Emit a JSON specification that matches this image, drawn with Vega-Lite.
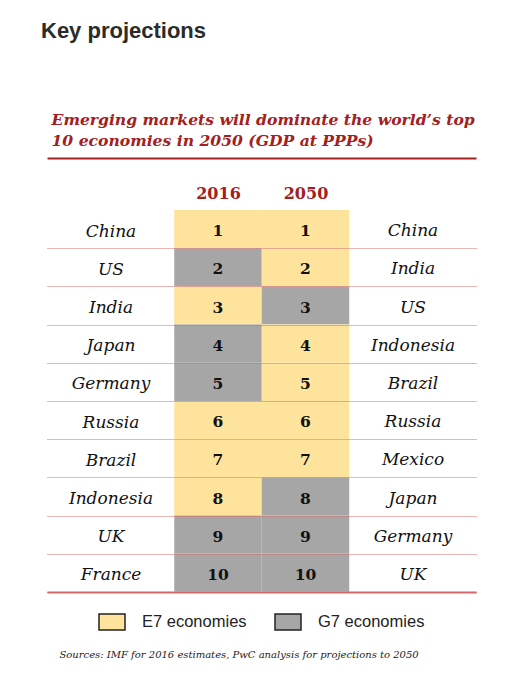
{
  "$schema": "https://vega.github.io/schema/vega-lite/v6.json",
  "width": 429,
  "height": 382,
  "autosize": {"type": "none"},
  "padding": {"left": 47, "top": 210, "right": 37, "bottom": 89},
  "background": "white",
  "config": {"view": {"stroke": null}},
  "title": {
    "text": "Key projections",
    "anchor": "start",
    "frame": "group",
    "font": "Liberation Sans",
    "fontSize": 22,
    "fontWeight": "bold",
    "color": "#2b2b2b",
    "dx": -6,
    "offset": 69
  },
  "datasets": {
    "ranks": [
      {"year": 2016, "rank": 1, "country": "China", "group": "E7 economies"},
      {"year": 2016, "rank": 2, "country": "US", "group": "G7 economies"},
      {"year": 2016, "rank": 3, "country": "India", "group": "E7 economies"},
      {"year": 2016, "rank": 4, "country": "Japan", "group": "G7 economies"},
      {"year": 2016, "rank": 5, "country": "Germany", "group": "G7 economies"},
      {"year": 2016, "rank": 6, "country": "Russia", "group": "E7 economies"},
      {"year": 2016, "rank": 7, "country": "Brazil", "group": "E7 economies"},
      {"year": 2016, "rank": 8, "country": "Indonesia", "group": "E7 economies"},
      {"year": 2016, "rank": 9, "country": "UK", "group": "G7 economies"},
      {"year": 2016, "rank": 10, "country": "France", "group": "G7 economies"},
      {"year": 2050, "rank": 1, "country": "China", "group": "E7 economies"},
      {"year": 2050, "rank": 2, "country": "India", "group": "E7 economies"},
      {"year": 2050, "rank": 3, "country": "US", "group": "G7 economies"},
      {"year": 2050, "rank": 4, "country": "Indonesia", "group": "E7 economies"},
      {"year": 2050, "rank": 5, "country": "Brazil", "group": "E7 economies"},
      {"year": 2050, "rank": 6, "country": "Russia", "group": "E7 economies"},
      {"year": 2050, "rank": 7, "country": "Mexico", "group": "E7 economies"},
      {"year": 2050, "rank": 8, "country": "Japan", "group": "G7 economies"},
      {"year": 2050, "rank": 9, "country": "Germany", "group": "G7 economies"},
      {"year": 2050, "rank": 10, "country": "UK", "group": "G7 economies"}
    ]
  },
  "data": {"name": "ranks"},
  "layer": [
    {
      "transform": [{"filter": "datum.year === 2016"}],
      "encoding": {
        "x": {
          "field": "year",
          "type": "quantitative",
          "scale": {"domain": [1949.554, 2116.25], "nice": false, "zero": false},
          "axis": {
            "orient": "top",
            "values": [2016, 2050],
            "format": "d",
            "offset": 52,
            "domain": true,
            "domainColor": "#a32020",
            "domainWidth": 2,
            "ticks": false,
            "tickSize": 0,
            "grid": false,
            "labelAngle": 0,
            "labelFont": "DejaVu Serif",
            "labelFontWeight": "bold",
            "labelFontSize": 16,
            "labelColor": "#a32020",
            "labelBaseline": "middle",
            "labelPadding": -35,
            "labelFlush": false,
            "labelOverlap": false,
            "title": ["Emerging markets will dominate the world’s top", "10 economies in 2050 (GDP at PPPs)"],
            "titleFont": "DejaVu Serif",
            "titleFontWeight": "bold",
            "titleFontStyle": "italic",
            "titleFontSize": 15.6,
            "titleColor": "#a32020",
            "titleAnchor": "start",
            "titleAlign": "left",
            "titleX": 4,
            "titleLineHeight": 21,
            "titlePadding": 10
          }
        },
        "y": {
          "field": "country",
          "type": "nominal",
          "sort": {"field": "rank"},
          "scale": {"paddingInner": 0, "paddingOuter": 0},
          "axis": {
            "orient": "left",
            "domain": false,
            "ticks": false,
            "tickSize": 0,
            "tickBand": "extent",
            "grid": true,
            "gridColor": "#d96b6b",
            "gridOpacity": {"condition": {"test": "datum.extra", "value": 0}, "value": 1},
            "gridDash": [1, 1],
            "gridWidth": 1,
            "zindex": 1,
            "labelFont": "DejaVu Serif",
            "labelFontStyle": "italic",
            "labelFontSize": 17,
            "labelColor": "#111111",
            "labelAlign": "center",
            "labelBaseline": "middle",
            "labelPadding": -63.5,
            "labelOffset": 2,
            "title": null
          }
        }
      },
      "layer": [
        {
          "mark": {"type": "rect", "width": 87.5},
          "encoding": {
            "color": {
              "field": "group",
              "type": "nominal",
              "scale": {"domain": ["E7 economies", "G7 economies"], "range": ["#fee39c", "#a6a6a6"]},
              "legend": {
                "orient": "none",
                "legendX": 56,
                "legendY": 403,
                "direction": "horizontal",
                "title": null,
                "symbolType": "M-1.625,-1H1.625V1H-1.625Z",
                "symbolSize": 256,
                "symbolStrokeColor": "#222222",
                "symbolStrokeWidth": 1.5,
                "symbolOpacity": 1,
                "labelFont": "Liberation Sans",
                "labelFontSize": 16.5,
                "labelColor": "#222222",
                "labelOffset": 21,
                "columnPadding": 25
              }
            }
          }
        },
        {
          "mark": {"type": "text", "font": "DejaVu Serif", "fontWeight": "bold", "fontSize": 15.5, "color": "#111111", "baseline": "middle", "dy": 2},
          "encoding": {"text": {"field": "rank", "type": "quantitative"}}
        }
      ]
    },
    {
      "transform": [{"filter": "datum.year === 2050"}],
      "encoding": {
        "x": {
          "field": "year",
          "type": "quantitative",
          "scale": {"domain": [1949.554, 2116.25], "nice": false, "zero": false},
          "axis": {
            "orient": "bottom",
            "domain": true,
            "domainColor": "#c96a6a",
            "domainWidth": 2,
            "ticks": false,
            "labels": false,
            "grid": false,
            "title": "Sources: IMF for 2016 estimates, PwC analysis for projections to 2050",
            "titleFont": "DejaVu Serif",
            "titleFontStyle": "italic",
            "titleFontWeight": "normal",
            "titleFontSize": 10,
            "titleColor": "#222222",
            "titleAnchor": "start",
            "titleAlign": "left",
            "titleBaseline": "alphabetic",
            "titleX": 12,
            "titleY": 65
          }
        },
        "y": {
          "field": "country",
          "type": "nominal",
          "sort": {"field": "rank"},
          "scale": {"paddingInner": 0, "paddingOuter": 0},
          "axis": {
            "orient": "right",
            "domain": false,
            "ticks": false,
            "tickSize": 0,
            "grid": false,
            "labelFont": "DejaVu Serif",
            "labelFontStyle": "italic",
            "labelFontSize": 17,
            "labelColor": "#111111",
            "labelAlign": "center",
            "labelBaseline": "middle",
            "labelPadding": -63.5,
            "labelOffset": 2,
            "title": null
          }
        }
      },
      "layer": [
        {
          "mark": {"type": "rect", "width": 87.5},
          "encoding": {
            "color": {
              "field": "group",
              "type": "nominal",
              "scale": {"domain": ["E7 economies", "G7 economies"], "range": ["#fee39c", "#a6a6a6"]}
            }
          }
        },
        {
          "mark": {"type": "text", "font": "DejaVu Serif", "fontWeight": "bold", "fontSize": 15.5, "color": "#111111", "baseline": "middle", "dy": 2},
          "encoding": {"text": {"field": "rank", "type": "quantitative"}}
        }
      ]
    }
  ],
  "resolve": {
    "scale": {"y": "independent"},
    "axis": {"y": "independent", "x": "independent"}
  }
}
